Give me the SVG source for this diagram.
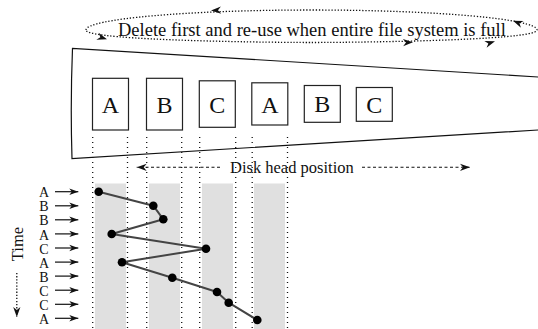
<svg xmlns="http://www.w3.org/2000/svg" xmlns:xlink="http://www.w3.org/1999/xlink" width="538" height="329" viewBox="0 0 538 329">
<style>
text{font-family:"Liberation Serif","Times New Roman",serif;fill:#111}
.box{fill:#fff;stroke:#222;stroke-width:1.2}
.big{font-size:24px;text-anchor:middle}
.lab{font-size:14px;text-anchor:middle}
.band{fill:#e0e0e0}
.vdot{stroke:#111;stroke-width:1.3;stroke-dasharray:1 4;fill:none}
.fine{stroke:#111;stroke-width:1.3;stroke-dasharray:1.3 1.8;fill:none}
.dash{stroke:#111;stroke-width:1.1;stroke-dasharray:3 2.5;fill:none}
.solid{stroke:#111;stroke-width:1.2;fill:none}
.track{stroke:#444;stroke-width:2;fill:none;stroke-linejoin:round}
.dot{fill:#000}
.ah{fill:#111}
</style>
<defs>
<path id="ah" class="ah" d="M0,0 L-10,-3.6 L-7,0 L-10,3.6 Z"/>
<marker id="m" viewBox="-11 -5 12 10" refX="0" refY="0" markerWidth="12" markerHeight="10" markerUnits="userSpaceOnUse" orient="auto"><path d="M0,0 L-10,-3.6 L-7,0 L-10,3.6 Z" fill="#111"/></marker>
<marker id="ms" viewBox="-11 -5 12 10" refX="0" refY="0" markerWidth="12" markerHeight="10" markerUnits="userSpaceOnUse" orient="auto"><path d="M0,0 L-9,-3.2 L-6.5,0 L-9,3.2 Z" fill="#111"/></marker>
</defs>

<g id="cycle">
<path class="fine" d="M86,30 C86,18.95 187,10 311.5,10 C436,10 537,18.95 537,30 C537,41.25 334,42.5 311.5,42.5 C289,42.5 86,41.25 86,30 Z"/>
<use xlink:href="#ah" transform="translate(211,10.4) rotate(178)"/>
<use xlink:href="#ah" transform="translate(107,39.3) rotate(18)"/>
<use xlink:href="#ah" transform="translate(413,42.2) rotate(-2)"/>
<use xlink:href="#ah" transform="translate(495,41.3) rotate(-18)"/>
<use xlink:href="#ah" transform="translate(513,20.7) rotate(-158)"/>
<text x="118" y="35.5" font-size="18.5">Delete first and re-use when entire file system is full</text>
</g>

<g id="disk">
<path class="solid" d="M548,77.6 L72.5,48.3 Q70.3,103 72,158.5 L548,129.4"/>
</g>

<g id="bands">
<rect class="band" x="95" y="183.5" width="31" height="146"/>
<rect class="band" x="149" y="183.5" width="31" height="146"/>
<rect class="band" x="202" y="183.5" width="31" height="146"/>
<rect class="band" x="254" y="183.5" width="31" height="146"/>
</g>

<g id="guides">
<line class="vdot" x1="92.7" y1="137" x2="92.7" y2="329"/>
<line class="vdot" x1="127.5" y1="137" x2="127.5" y2="329"/>
<line class="vdot" x1="146.7" y1="137" x2="146.7" y2="329"/>
<line class="vdot" x1="181.7" y1="137" x2="181.7" y2="329"/>
<line class="vdot" x1="199.7" y1="137" x2="199.7" y2="329"/>
<line class="vdot" x1="235.7" y1="137" x2="235.7" y2="329"/>
<line class="vdot" x1="252.2" y1="137" x2="252.2" y2="329"/>
<line class="vdot" x1="287.5" y1="137" x2="287.5" y2="329"/>
</g>

<g id="file1"><rect class="box" x="92.5" y="78.3" width="36" height="51.7"/><text class="big" x="110.5" y="113.3">A</text></g>
<g id="file2"><rect class="box" x="146.5" y="78.3" width="36" height="51.7"/><text class="big" x="164.5" y="113.3">B</text></g>
<g id="file3"><rect class="box" x="199.3" y="80.8" width="36" height="46.5"/><text class="big" x="217.3" y="113.3">C</text></g>
<g id="file4"><rect class="box" x="251.8" y="82.8" width="36" height="42.2"/><text class="big" x="269.8" y="113.3">A</text></g>
<g id="file5"><rect class="box" x="304.3" y="85.5" width="36" height="36.8"/><text class="big" x="322.3" y="112.3">B</text></g>
<g id="file6"><rect class="box" x="356.3" y="87.5" width="36" height="33.8"/><text class="big" x="374.3" y="112.5">C</text></g>

<g id="head-label">
<text x="230" y="172.5" font-size="16.5">Disk head position</text>
</g>

<g id="time-label">
<text transform="translate(23,244) rotate(-90)" font-size="16.5" text-anchor="middle">Time</text>
</g>

<g id="requests">
<text class="lab" x="44" y="197.3">A</text>
<text class="lab" x="44" y="211.4">B</text>
<text class="lab" x="44" y="225.4">B</text>
<text class="lab" x="44" y="239.5">A</text>
<text class="lab" x="44" y="253.6">C</text>
<text class="lab" x="44" y="267.7">A</text>
<text class="lab" x="44" y="281.7">B</text>
<text class="lab" x="44" y="295.8">C</text>
<text class="lab" x="44" y="309.9">C</text>
<text class="lab" x="44" y="323.9">A</text>
</g>

<g id="connectors">
<line class="dash" x1="220" y1="167.3" x2="136.7" y2="167.3" marker-end="url(#m)"/>
<line class="dash" x1="362" y1="167.3" x2="470" y2="167.3" marker-end="url(#m)"/>
<line class="fine" x1="16.8" y1="273" x2="16.8" y2="317" marker-end="url(#m)"/>
<line class="solid" x1="55" y1="191.7" x2="78.3" y2="191.7" marker-end="url(#ms)"/>
<line class="solid" x1="55" y1="205.8" x2="78.3" y2="205.8" marker-end="url(#ms)"/>
<line class="solid" x1="55" y1="219.8" x2="78.3" y2="219.8" marker-end="url(#ms)"/>
<line class="solid" x1="55" y1="233.9" x2="78.3" y2="233.9" marker-end="url(#ms)"/>
<line class="solid" x1="55" y1="248" x2="78.3" y2="248" marker-end="url(#ms)"/>
<line class="solid" x1="55" y1="262.1" x2="78.3" y2="262.1" marker-end="url(#ms)"/>
<line class="solid" x1="55" y1="276.1" x2="78.3" y2="276.1" marker-end="url(#ms)"/>
<line class="solid" x1="55" y1="290.2" x2="78.3" y2="290.2" marker-end="url(#ms)"/>
<line class="solid" x1="55" y1="304.3" x2="78.3" y2="304.3" marker-end="url(#ms)"/>
<line class="solid" x1="55" y1="318.3" x2="78.3" y2="318.3" marker-end="url(#ms)"/>
<polyline class="track" points="98.7,191.7 153.3,205.7 163.3,219.3 111.7,234 206,248.7 122,262.3 172.3,277.7 217,292 228.7,302.7 257.3,320"/>
</g>

<g id="seeks">
<circle class="dot" cx="98.7" cy="191.7" r="4.3"/>
<circle class="dot" cx="153.3" cy="205.7" r="4.3"/>
<circle class="dot" cx="163.3" cy="219.3" r="4.3"/>
<circle class="dot" cx="111.7" cy="234" r="4.3"/>
<circle class="dot" cx="206" cy="248.7" r="4.3"/>
<circle class="dot" cx="122" cy="262.3" r="4.3"/>
<circle class="dot" cx="172.3" cy="277.7" r="4.3"/>
<circle class="dot" cx="217" cy="292" r="4.3"/>
<circle class="dot" cx="228.7" cy="302.7" r="4.3"/>
<circle class="dot" cx="257.3" cy="320" r="4.3"/>
</g>
</svg>
